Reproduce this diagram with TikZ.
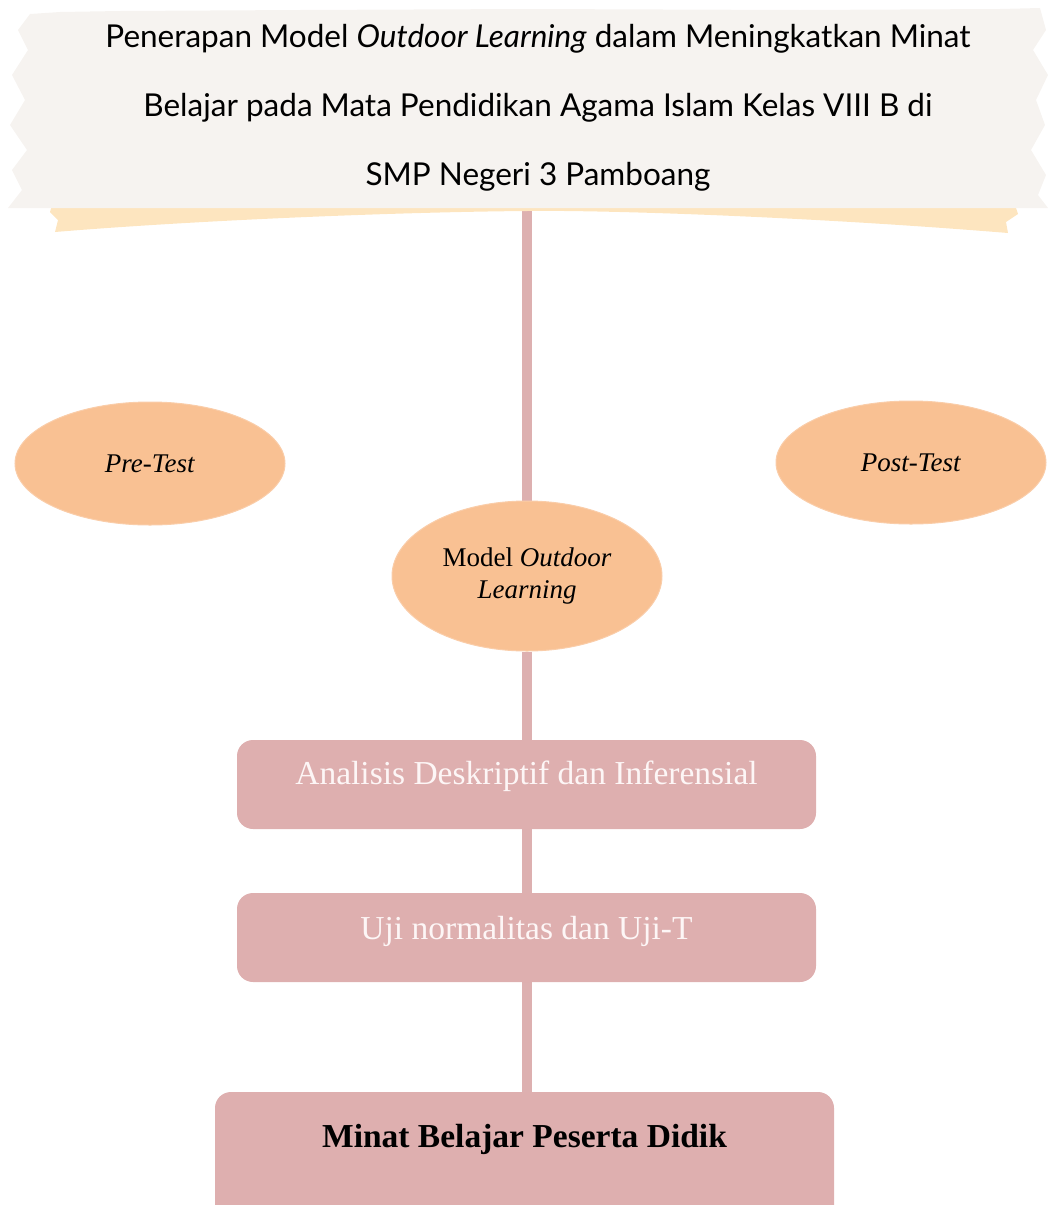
\documentclass[tikz,border=0pt]{standalone}
\usepackage{fontspec}
\setmainfont{Liberation Serif}
\newfontfamily\titlefont{Lato}
\usetikzlibrary{shapes.geometric,backgrounds}
\definecolor{paper}{HTML}{F6F3F0}
\definecolor{tape}{HTML}{FDE5BF}
\definecolor{peach}{HTML}{F9C193}
\definecolor{rose}{HTML}{DEAFAF}
\definecolor{roseline}{HTML}{DDB0B0}
\definecolor{boxtext}{HTML}{FDF6F6}
\tikzset{
  oval/.style={ellipse, fill=peach, draw=peach!80!white, line width=1pt, inner sep=0pt, align=center,
    font=\fontsize{27}{32}\selectfont},
  stepbox/.style={rectangle, rounded corners=16pt, fill=rose, inner sep=0pt},
  boxtxt/.style={text=boxtext, font=\fontsize{33.5}{38}\selectfont},
  conn/.style={draw=roseline, line width=10pt}
}
\begin{document}
\begin{tikzpicture}[x=1pt,y=-1pt]
\useasboundingbox (0,0) rectangle (1062,1205);
\clip (0,0) rectangle (1062,1205);
% tape strip under banner
\fill[tape] (52,205) -- (1015,205) -- (1018,214) -- (1006,222) -- (1008,233)
  .. controls (800,216) and (600,210) .. (527,211)
  .. controls (400,212) and (200,220) .. (55,232) -- (58,220) -- (50,212) -- cycle;
% torn paper banner
\fill[paper] (30,14) -- (60,12) -- (120,11) -- (300,10) -- (527,9) -- (800,10) -- (1000,9) -- (1040,8)
  -- (1046,30) -- (1033,50) -- (1048,75) -- (1036,100) -- (1045,125) -- (1031,150) -- (1046,175)
  -- (1038,195) -- (1048,208) -- (8,208) -- (22,190) -- (12,170) -- (27,150) -- (10,125)
  -- (25,100) -- (12,75) -- (28,50) -- (18,30) -- cycle;
\node[align=center, font=\titlefont\fontsize{31.5}{69}\selectfont] (title) at (538,107.5)
  {Penerapan Model \textit{Outdoor Learning} dalam Meningkatkan Minat\\
   Belajar pada Mata Pendidikan Agama Islam Kelas VIII B di\\
   SMP Negeri 3 Pamboang};
\coordinate (bannerbottom) at (527,205);
% ellipses
\node[oval, minimum width=270, minimum height=123] (pre) at (150,463.5) {\textit{Pre-Test}};
\node[oval, minimum width=270, minimum height=123] (post) at (911,462.5) {\textit{Post-Test}};
\node[oval, minimum width=270, minimum height=150] (model) at (527,576) {Model \textit{Outdoor}\\\textit{Learning}};
% boxes
\node[stepbox, minimum width=579, minimum height=89] (b1) at (526.5,784.5) {};
\node[boxtxt] (t1) at (526.5,776) {Analisis Deskriptif dan Inferensial};
\node[stepbox, minimum width=579, minimum height=89] (b2) at (526.5,937.5) {};
\node[boxtxt] (t2) at (526.5,931) {Uji normalitas dan Uji-T};
\node[stepbox, minimum width=619, minimum height=130] (b3) at (524.5,1157) {};
\node[font=\fontsize{33.5}{38}\selectfont\bfseries] (t3) at (524.5,1139) {Minat Belajar Peserta Didik};
% connectors
\begin{pgfonlayer}{background}
\draw[conn] (bannerbottom) -- (model.north);
\draw[conn] (model.south) -- (model.south |- b1.north);
\draw[conn] (b1.south -| model.south) -- (b2.north -| model.south);
\draw[conn] (b2.south -| model.south) -- (b3.north -| model.south);
\end{pgfonlayer}
\end{tikzpicture}
\end{document}
